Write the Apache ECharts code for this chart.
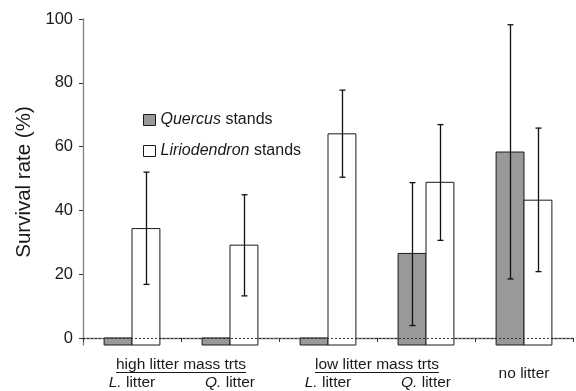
<!DOCTYPE html>
<html><head><meta charset="utf-8">
<script src="https://cdn.jsdelivr.net/npm/echarts@6/dist/echarts.min.js"></script>
<style>html,body{margin:0;padding:0;background:#fff}#c{width:576px;height:391px}</style>
</head><body><div id="c"></div>
<script>
const categories = ['L. litter', 'Q. litter', 'L. litter', 'Q. litter', ''];
const groupLabels = ['high litter mass trts', 'low litter mass trts', 'no litter'];
const seriesNames = ['Quercus stands', 'Liriodendron stands'];
const quercus = [0, 0, 0, 26.5, 58.3];
const quercusHigh = [null, null, null, 48.7, 98.2];
const quercusLow = [null, null, null, 3.9, 18.5];
const lirio = [34.3, 29.1, 64.0, 48.8, 43.2];
const lirioHigh = [52.0, 44.9, 77.7, 66.9, 65.8];
const lirioLow = [16.8, 13.2, 50.4, 30.6, 20.8];
const yTicks = [0, 20, 40, 60, 80, 100];

const Y_MIN = -2.2, Y_MAX = 100;
const BAR_FRAC = 0.2846;
const FONT = 'Liberation Sans, Arial, sans-serif';
const GRAY = '#999999';
const EDGE = '#1a1a1a';
const AXIS = '#808080';
const TXT = '#1a1a1a';

const chart = echarts.init(document.getElementById('c'), null, {renderer: 'canvas'});

function barRenderer(sign, fill) {
  return function (params, api) {
    const x = api.value(0), v = api.value(1);
    const catW = api.size([1, 0])[0];
    const bw = catW * BAR_FRAC;
    const top = api.coord([x, v]);
    const base = api.coord([x, Y_MIN]);
    const left = sign < 0 ? top[0] - bw : top[0];
    return {
      type: 'rect',
      shape: {x: left, y: top[1], width: bw, height: base[1] - top[1]},
      style: {fill: fill, stroke: EDGE, lineWidth: 1}
    };
  };
}
function errRenderer(sign) {
  return function (params, api) {
    const x = api.value(0), lo = api.value(1), hi = api.value(2);
    if (isNaN(lo) || isNaN(hi)) return null;
    const catW = api.size([1, 0])[0];
    const off = sign * catW * BAR_FRAC / 2;
    const pHi = api.coord([x, hi]);
    const pLo = api.coord([x, lo]);
    const cx = Math.round(pHi[0] + off) + 0.5;
    const cap = 3;
    const ls = {stroke: '#111', lineWidth: 1.3};
    return {
      type: 'group',
      children: [
        {type: 'line', shape: {x1: cx, y1: pHi[1], x2: cx, y2: pLo[1]}, style: ls},
        {type: 'line', shape: {x1: cx - cap, y1: pHi[1], x2: cx + cap, y2: pHi[1]}, style: ls},
        {type: 'line', shape: {x1: cx - cap, y1: pLo[1], x2: cx + cap, y2: pLo[1]}, style: ls}
      ]
    };
  };
}

function labelFmt(v) {
  if (!v) return '';
  const parts = v.split(' ');
  return '{i|' + parts[0] + '} ' + parts.slice(1).join(' ');
}

const option = {
  animation: false,
  backgroundColor: '#fff',
  grid: {left: 83, right: 3, top: 19, bottom: 46},
  legend: {
    orient: 'vertical',
    left: 138,
    top: 107,
    itemWidth: 12,
    itemHeight: 11,
    itemGap: 15,
    itemTextGap: 5,
    icon: 'rect',
    data: [
      {name: seriesNames[0], itemStyle: {color: GRAY, borderColor: EDGE, borderWidth: 1}},
      {name: seriesNames[1], itemStyle: {color: '#fff', borderColor: EDGE, borderWidth: 1}}
    ],
    formatter: function (n) {
      const p = n.split(' ');
      return '{i|' + p[0] + '} ' + p.slice(1).join(' ');
    },
    textStyle: {
      fontFamily: FONT, fontSize: 16, color: TXT,
      rich: {i: {fontFamily: FONT, fontSize: 16, fontStyle: 'italic', color: TXT}}
    }
  },
  xAxis: {
    type: 'category',
    data: categories,
    axisLine: {lineStyle: {color: AXIS, width: 1.3}},
    axisTick: {show: true, length: 4, lineStyle: {color: '#333'}},
    axisLabel: {
      interval: 0, margin: 30, formatter: labelFmt,
      fontFamily: FONT, fontSize: 15.5, color: TXT,
      rich: {i: {fontFamily: FONT, fontSize: 15.5, fontStyle: 'italic', color: TXT}}
    }
  },
  yAxis: {
    type: 'value',
    min: Y_MIN, max: Y_MAX,
    name: 'Survival rate (%)',
    nameLocation: 'middle',
    nameGap: 48,
    nameTextStyle: {fontFamily: FONT, fontSize: 20.5, color: TXT},
    splitLine: {show: false},
    axisLine: {show: true, lineStyle: {color: AXIS, width: 1.3}},
    axisTick: {show: true, length: 4, customValues: yTicks, lineStyle: {color: '#333'}},
    axisLabel: {customValues: yTicks, margin: 10, fontFamily: FONT, fontSize: 16.5, color: TXT}
  },
  series: [
    {
      name: seriesNames[0], type: 'custom', renderItem: barRenderer(-1, GRAY),
      itemStyle: {color: GRAY},
      data: quercus.map((v, i) => [i, v]), z: 2
    },
    {
      name: seriesNames[1], type: 'custom', renderItem: barRenderer(1, '#fff'),
      itemStyle: {color: '#fff'},
      data: lirio.map((v, i) => [i, v]), z: 2,
      markLine: {
        silent: true, symbol: 'none', label: {show: false},
        lineStyle: {type: [2, 2], color: '#333', width: 1},
        data: [{yAxis: 0}]
      }
    },
    {
      name: 'qerr', type: 'custom', renderItem: errRenderer(-1),
      data: quercus.map((v, i) => [i, quercusLow[i] == null ? NaN : quercusLow[i], quercusHigh[i] == null ? NaN : quercusHigh[i]]), z: 3
    },
    {
      name: 'lerr', type: 'custom', renderItem: errRenderer(1),
      data: lirio.map((v, i) => [i, lirioLow[i], lirioHigh[i]]), z: 3
    }
  ]
};
chart.setOption(option);

// group labels below the category axis
const ctx = document.createElement('canvas').getContext('2d');
const gFont = '15.5px ' + FONT;
ctx.font = gFont;
function px(i) { return chart.convertToPixel({xAxisIndex: 0}, i); }
const groupX = [
  (px(0) + px(1)) / 2,
  (px(2) + px(3)) / 2,
  px(4)
];
const axisY = chart.convertToPixel({yAxisIndex: 0}, Y_MIN);
const graphics = [];
groupLabels.forEach(function (t, k) {
  const isLast = k === groupLabels.length - 1;
  const y = axisY + (isLast ? 29 : 20);
  graphics.push({
    type: 'text', x: groupX[k], y: y,
    style: {text: t, font: gFont, fill: TXT, align: 'center', verticalAlign: 'middle'}
  });
  if (!isLast) {
    const w = ctx.measureText(t).width;
    graphics.push({
      type: 'line',
      shape: {x1: groupX[k] - w / 2, y1: y + 7.5, x2: groupX[k] + w / 2, y2: y + 7.5},
      style: {stroke: TXT, lineWidth: 1}
    });
  }
});
chart.setOption({graphic: graphics});
</script>
</body></html>
